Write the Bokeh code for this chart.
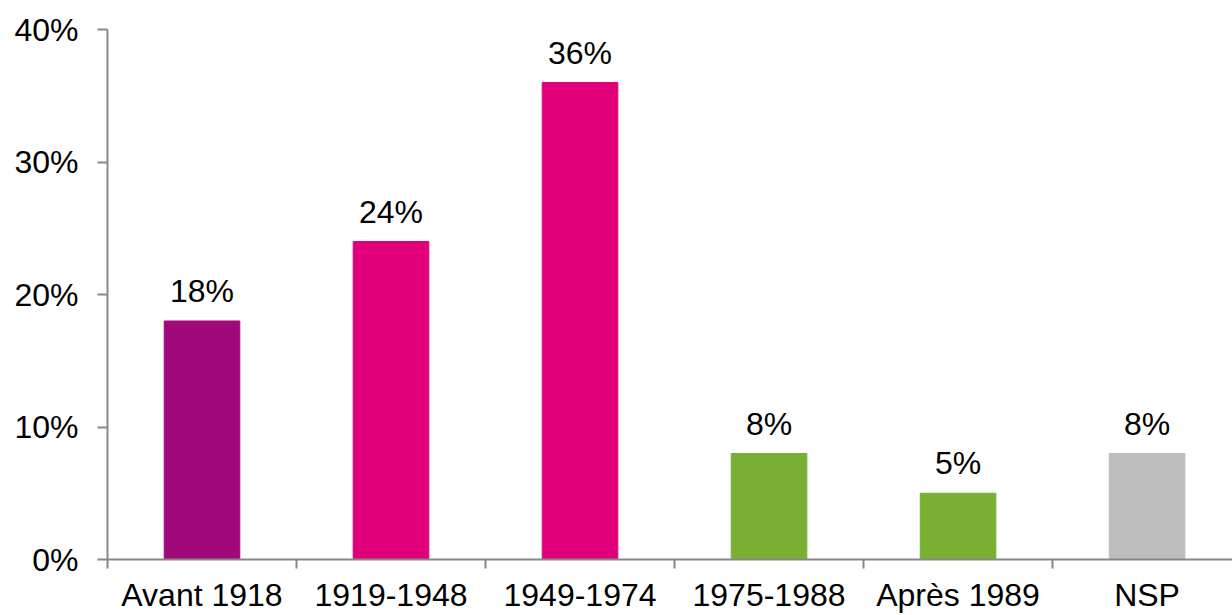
from bokeh.plotting import figure
from bokeh.models import FixedTicker, ColumnDataSource, Range1d
from bokeh.core.properties import value
from bokeh.embed import file_html
from bokeh.resources import INLINE

categories = ["Avant 1918", "1919-1948", "1949-1974", "1975-1988", "Après 1989", "NSP"]
values = [18, 24, 36, 8, 5, 8]
colors = ["#A0097A", "#E2007A", "#E2007A", "#77B033", "#77B033", "#BDBDBD"]
y_ticks = [0, 10, 20, 30, 40]

xs = [i + 0.5 for i in range(len(categories))]
src = ColumnDataSource(dict(x=xs, top=values, color=colors,
                            label=[f"{v}%" for v in values]))

p = figure(width=1232, height=615, output_backend="svg", toolbar_location=None,
           x_range=Range1d(0, 5.952), y_range=Range1d(0, 40),
           min_border_left=107, min_border_right=0, min_border_top=29, min_border_bottom=50)
p.outline_line_color = None
p.grid.grid_line_color = None
p.background_fill_color = "white"

p.vbar(x="x", top="top", width=0.4, color="color", source=src)
p.text(x="x", y="top", text="label", source=src, text_align="center",
       text_baseline="alphabetic", y_offset=-30, text_font=value("Liberation Sans"),
       text_font_size="32px", text_color="black")

font = "Liberation Sans"
ax = p.xaxis[0]
ax.ticker = FixedTicker(ticks=xs, minor_ticks=list(range(len(categories) + 1)))
ax.major_label_overrides = {x: c for x, c in zip(xs, categories)}
ax.major_tick_out = 0
ax.major_tick_in = 0
ax.minor_tick_out = 9
ax.minor_tick_in = 0
ax.minor_tick_line_color = "#888888"
ax.axis_line_color = "#888888"
ax.axis_line_width = 2
ax.minor_tick_line_width = 2
ax.major_label_text_font = font
ax.major_label_text_font_size = "32px"
ax.major_label_text_color = "black"
ax.major_label_standoff = 8

ay = p.yaxis[0]
ay.ticker = FixedTicker(ticks=y_ticks)
ay.major_label_overrides = {t: f"{t}%" for t in y_ticks}
ay.major_tick_out = 10
ay.major_tick_in = 0
ay.minor_tick_out = 0
ay.minor_tick_in = 0
ay.axis_line_color = "#888888"
ay.axis_line_width = 2
ay.major_tick_line_color = "#888888"
ay.major_tick_line_width = 2
ay.major_label_text_font = font
ay.major_label_text_font_size = "32px"
ay.major_label_text_color = "black"
ay.major_label_standoff = 19

open("out.html", "w").write(file_html(p, INLINE))
